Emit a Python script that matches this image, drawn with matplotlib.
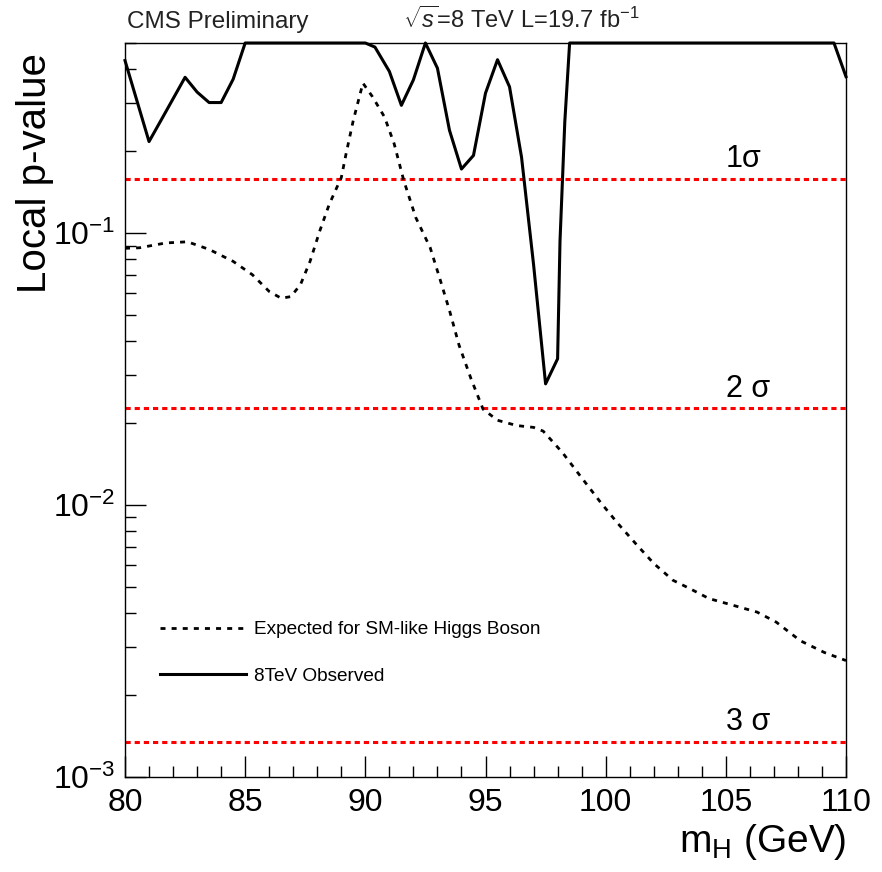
import matplotlib
matplotlib.use("Agg")
import matplotlib.pyplot as plt
from matplotlib.ticker import LogLocator, NullFormatter, MultipleLocator

plt.rcParams['font.family'] = ['Liberation Sans', 'DejaVu Sans']
plt.rcParams['mathtext.fontset'] = 'custom'
plt.rcParams['mathtext.rm'] = 'Liberation Sans'
plt.rcParams['mathtext.it'] = 'Liberation Sans:italic'
plt.rcParams['mathtext.bf'] = 'Liberation Sans:bold'

# ---- data ----
obs_mass = [80.0, 81.0, 81.5, 82.5, 83.0, 83.5, 84.0, 84.5, 85.0, 90.0, 90.4, 91.0,
            91.5, 92.0, 92.5, 93.0, 93.5, 94.0, 94.5, 95.0, 95.5, 96.0, 96.5, 97.0,
            97.5, 98.0, 98.1, 98.3, 98.5, 109.5, 110.0]
obs_p = [0.431, 0.217, 0.260, 0.374, 0.33, 0.302, 0.302, 0.368, 0.5, 0.5, 0.483, 0.393,
         0.295, 0.366, 0.5, 0.404, 0.239, 0.172, 0.193, 0.327, 0.434, 0.345, 0.190, 0.0766,
         0.0279, 0.0345, 0.0934, 0.257, 0.5, 0.5, 0.376]

exp_mass = [80.0, 80.6, 81.7, 82.6, 83.5, 84.5, 85.3, 86.0, 86.5, 86.9, 87.3, 87.7,
            88.1, 88.5, 89.0, 89.2, 89.5, 89.9, 90.3, 90.8, 91.2, 91.6, 92.1, 92.7,
            93.1, 93.5, 93.9, 94.4, 94.9, 95.5, 96.3, 97.0, 97.4, 98.2, 99.0, 99.8,
            100.5, 101.3, 102.0, 102.8, 103.5, 104.3, 105.3, 106.3, 107.1, 108.1, 109.1, 110.0]
exp_p = [0.0879, 0.0883, 0.092, 0.0929, 0.0871, 0.0787, 0.0703, 0.061, 0.0576, 0.0584, 0.0646, 0.0787,
         0.1016, 0.1277, 0.160, 0.196, 0.260, 0.356, 0.317, 0.267, 0.213, 0.156, 0.114, 0.0883,
         0.068, 0.052, 0.0387, 0.0291, 0.0225, 0.0205, 0.0196, 0.0193, 0.0187, 0.0156, 0.0126, 0.0102,
         0.00857, 0.00713, 0.0061, 0.00529, 0.00493, 0.00453, 0.00428, 0.00404, 0.00371, 0.00317, 0.00287, 0.00268]

sigma_p = [0.1587, 0.02275, 0.00135]
sigma_labels = ['1σ', '2 σ', '3 σ']

x_ticks = [80, 85, 90, 95, 100, 105, 110]

# ---- figure ----
fig = plt.figure(figsize=(8.82, 8.72), dpi=100)
ax = fig.add_axes([125/882, 95/872, (846-125)/882, (777-43)/872])

ax.set_yscale('log')
ax.set_xlim(80, 110)
ax.set_ylim(1e-3, 0.5)

for p, lab in zip(sigma_p, sigma_labels):
    ax.axhline(p, color='#ff0000', lw=2.2, linestyle=(0, (1.7, 1.3)), zorder=2)
    ax.annotate(lab, xy=(105, p), xytext=(0, 8), textcoords='offset points',
                ha='left', va='baseline', fontsize=22, color='black')

ax.plot(exp_mass, exp_p, color='black', lw=2.0, linestyle=(0, (1.8, 2.2)),
        label='Expected for SM-like Higgs Boson', zorder=3)
ax.plot(obs_mass, obs_p, color='black', lw=2.2, label='8TeV Observed',
        clip_on=False, zorder=4)

ax.xaxis.set_major_locator(MultipleLocator(5))
ax.xaxis.set_minor_locator(MultipleLocator(1))
ax.set_xticks(x_ticks)
ax.yaxis.set_major_locator(LogLocator(base=10, numticks=10))
ax.yaxis.set_minor_locator(LogLocator(base=10, subs=range(2, 10), numticks=20))
ax.yaxis.set_minor_formatter(NullFormatter())

ax.tick_params(axis='both', which='major', direction='in', length=15, width=1.0,
               labelsize=23, top=False, right=False)
ax.tick_params(axis='both', which='minor', direction='in', length=8, width=1.0,
               top=False, right=False)
ax.tick_params(axis='x', which='major', pad=8)
ax.tick_params(axis='y', which='major', pad=7)

for s in ax.spines.values():
    s.set_linewidth(1.0)

ax.set_ylabel('Local p-value', fontsize=29, loc='top')
ax.yaxis.set_label_coords(-0.098, 0.986)
ax.set_xlabel(r'$\mathrm{m_{H}}$ (GeV)', fontsize=28, loc='right', labelpad=3)

leg = ax.legend(loc='center left', bbox_to_anchor=(0.0485, 0.169), frameon=False,
                fontsize=13.7, handlelength=4.5, handletextpad=0.45, labelspacing=1.55,
                borderpad=0, borderaxespad=0)

fig.text(127/882, 1 - 28/872, 'CMS Preliminary', fontsize=17.5, color='#222222',
         ha='left', va='baseline')
fig.text(403/882, 1 - 28/872, r'$\sqrt{s}$=8 TeV L=19.7 fb$^{-1}$', fontsize=17,
         color='#222222', ha='left', va='baseline')

fig.savefig('out.png', dpi=100)
